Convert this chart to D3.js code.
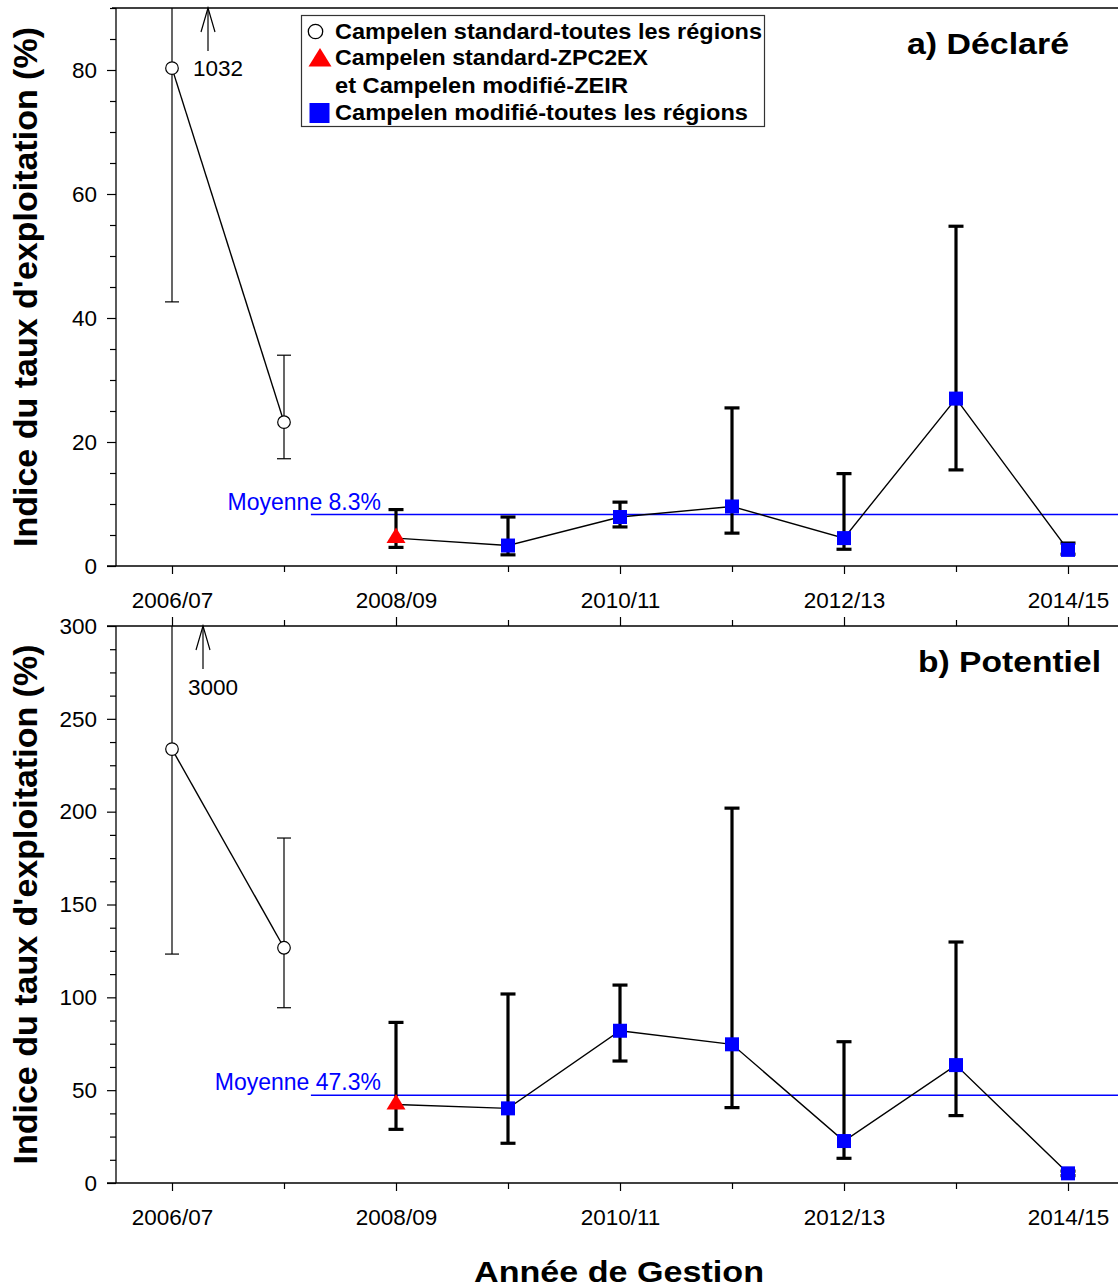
<!DOCTYPE html>
<html>
<head>
<meta charset="utf-8">
<script src="https://cdn.jsdelivr.net/npm/d3@7"></script>
<style>
  html, body { margin: 0; padding: 0; background: #fff; }
  svg { display: block; font-family: "Liberation Sans", Arial, sans-serif; }
</style>
</head>
<body>
<svg id="chart" width="1118" height="1287"></svg>
<script>
// ---------------- data ----------------
const seasons = ["2006/07","2007/08","2008/09","2009/10","2010/11","2011/12","2012/13","2013/14","2014/15"];
const tickLabelSeasons = ["2006/07","2008/09","2010/11","2012/13","2014/15"];

// a) Déclaré
const aStdSeason = ["2006/07","2007/08"];
const aStdVal = [80.3, 23.2];
const aStdLo  = [42.6, 17.3];
const aStdHi  = [1032, 34.0];
const aZpcSeason = ["2008/09"];
const aZpcVal = [4.5];
const aZpcLo  = [3.0];
const aZpcHi  = [9.1];
const aModSeason = ["2009/10","2010/11","2011/12","2012/13","2013/14","2014/15"];
const aModVal = [3.3, 7.9, 9.6, 4.5, 27.0, 2.6];
const aModLo  = [1.8, 6.3, 5.3, 2.7, 15.5, 1.9];
const aModHi  = [7.9, 10.3, 25.5, 14.9, 54.8, 3.7];
const aMean = 8.3;
const aOffscale = "1032";

// b) Potentiel
const bStdVal = [233.7, 126.7];
const bStdLo  = [123.3, 94.4];
const bStdHi  = [3000, 185.8];
const bZpcVal = [42.3];
const bZpcLo  = [28.9];
const bZpcHi  = [86.5];
const bModVal = [40.2, 82.0, 74.7, 22.6, 63.5, 5.2];
const bModLo  = [21.4, 65.7, 40.6, 13.3, 36.3, 4.0];
const bModHi  = [101.8, 106.6, 201.9, 76.1, 129.8, 6.4];
const bMean = 47.3;
const bOffscale = "3000";

const aYTicksMajor = [0, 20, 40, 60, 80];
const bYTicksMajor = [0, 50, 100, 150, 200, 250, 300];

const legendLabels = [
  "Campelen standard-toutes les régions",
  "Campelen standard-ZPC2EX",
  "et Campelen modifié-ZEIR",
  "Campelen modifié-toutes les régions"
];
const yTitle = "Indice du taux d'exploitation (%)";
const xTitle = "Année de Gestion";

// ---------------- drawing ----------------
const svg = d3.select("#chart");
const W = 1118;
const BLUE = "#0000ff", RED = "#ff0000";

const x = d3.scaleLinear().domain([-0.5, seasons.length - 0.5]).range([116, 1124]);
const xi = s => x(seasons.indexOf(s));

function makeSeries(seasonList, val, lo, hi) {
  return seasonList.map((s, i) => ({ s, v: val[i], lo: lo[i], hi: hi[i] }));
}

function panel(opt) {
  const y = d3.scaleLinear().domain([0, opt.ymax]).range([opt.bottom, opt.top]);
  const g = svg.append("g");
  const clipId = "clip" + opt.id;
  svg.append("clipPath").attr("id", clipId).append("rect")
    .attr("x", 116).attr("y", opt.top).attr("width", W - 116).attr("height", opt.bottom - opt.top);

  // y axis minor + major
  const minorVals = d3.range(0, opt.ymax + 0.001, opt.minorStep).filter(v => !opt.major.includes(v));
  g.append("g").attr("transform", "translate(116,0)")
    .call(d3.axisLeft(y).tickValues(minorVals).tickSize(6).tickFormat(""))
    .call(a => a.select(".domain").remove());
  g.append("g").attr("transform", "translate(116,0)")
    .call(d3.axisLeft(y).tickValues(opt.major).tickSize(9).tickPadding(10).tickFormat(d3.format("d")))
    .call(a => a.select(".domain").remove())
    .call(a => a.selectAll("text").attr("font-size", 22.5).attr("fill", "#000").attr("font-family", "'Liberation Sans', Arial, sans-serif"));
  g.append("line").attr("x1", 116).attr("x2", 116).attr("y1", opt.top).attr("y2", opt.bottom)
    .attr("stroke", "#000").attr("stroke-width", 1.3);

  // x axis bottom
  const idxAll = d3.range(seasons.length);
  const majorIdx = tickLabelSeasons.map(s => seasons.indexOf(s));
  const minorIdx = idxAll.filter(i => !majorIdx.includes(i));
  g.append("g").attr("transform", `translate(0,${opt.bottom})`)
    .call(d3.axisBottom(x).tickValues(minorIdx).tickSize(6).tickFormat(""))
    .call(a => a.select(".domain").remove());
  g.append("g").attr("transform", `translate(0,${opt.bottom})`)
    .call(d3.axisBottom(x).tickValues(majorIdx).tickSize(8).tickPadding(18).tickFormat(i => seasons[i]))
    .call(a => a.select(".domain").remove())
    .call(a => a.selectAll("text").attr("font-size", 22.5).attr("fill", "#000").attr("font-family", "'Liberation Sans', Arial, sans-serif"));
  g.append("line").attr("x1", 107).attr("x2", W).attr("y1", opt.bottom).attr("y2", opt.bottom)
    .attr("stroke", "#000").attr("stroke-width", 1.3);

  // top axis
  if (opt.topTicks) {
    g.append("g").attr("transform", `translate(0,${opt.top})`)
      .call(d3.axisTop(x).tickValues(minorIdx).tickSize(6).tickFormat(""))
      .call(a => a.select(".domain").remove());
    g.append("g").attr("transform", `translate(0,${opt.top})`)
      .call(d3.axisTop(x).tickValues(majorIdx).tickSize(9).tickFormat(""))
      .call(a => a.select(".domain").remove());
    g.append("line").attr("x1", 107).attr("x2", W).attr("y1", opt.top).attr("y2", opt.top)
      .attr("stroke", "#000").attr("stroke-width", 1.3);
  } else {
    g.append("line").attr("x1", 112).attr("x2", W).attr("y1", opt.top).attr("y2", opt.top)
      .attr("stroke", "#000").attr("stroke-width", 1.3);
  }
  g.selectAll(".tick line").attr("stroke", "#000").attr("stroke-width", 1.2);

  const plot = svg.append("g").attr("clip-path", `url(#${clipId})`);

  // mean line
  plot.append("line")
    .attr("x1", x(1.24)).attr("x2", W)
    .attr("y1", y(opt.mean)).attr("y2", y(opt.mean))
    .attr("stroke", BLUE).attr("stroke-width", 1.6);
  svg.append("text")
    .attr("x", 381).attr("y", y(opt.mean) - 5)
    .attr("text-anchor", "end").attr("font-size", 23).attr("fill", BLUE)
    .text("Moyenne " + opt.mean + "%");

  const std = opt.std, zpc = opt.zpc, mod = opt.mod;
  const lineGen = d3.line().x(d => xi(d.s)).y(d => y(d.v));

  // connecting lines
  plot.append("path").datum(std).attr("d", lineGen)
    .attr("fill", "none").attr("stroke", "#000").attr("stroke-width", 1.4);
  plot.append("path").datum(zpc.concat(mod)).attr("d", lineGen)
    .attr("fill", "none").attr("stroke", "#000").attr("stroke-width", 1.4);

  // error bars
  function errBars(data, sw, cap) {
    const eg = plot.append("g").attr("stroke", "#000").attr("stroke-width", sw);
    data.forEach(d => {
      const cx = xi(d.s);
      eg.append("line").attr("x1", cx).attr("x2", cx).attr("y1", y(d.lo)).attr("y2", y(d.hi));
      eg.append("line").attr("x1", cx - cap / 2).attr("x2", cx + cap / 2).attr("y1", y(d.lo)).attr("y2", y(d.lo));
      if (d.hi <= opt.ymax)
        eg.append("line").attr("x1", cx - cap / 2).attr("x2", cx + cap / 2).attr("y1", y(d.hi)).attr("y2", y(d.hi));
    });
  }
  errBars(std, 1.2, 14);
  errBars(zpc, 3.2, 15);
  errBars(mod, 3.2, 15);

  // markers
  plot.selectAll(".circ").data(std).join("circle")
    .attr("cx", d => xi(d.s)).attr("cy", d => y(d.v)).attr("r", 6.3)
    .attr("fill", "#fff").attr("stroke", "#000").attr("stroke-width", 1.2);
  plot.selectAll(".tri").data(zpc).join("path")
    .attr("d", d => { const cx = xi(d.s), cy = y(d.v);
      return `M${cx},${cy - 10.5}L${cx + 9.5},${cy + 5}L${cx - 9.5},${cy + 5}Z`; })
    .attr("fill", RED);
  plot.selectAll(".sq").data(mod).join("rect")
    .attr("x", d => xi(d.s) - 7).attr("y", d => y(d.v) - 7)
    .attr("width", 14).attr("height", 14).attr("fill", BLUE);

  // off-scale arrow
  const ax = x(0) + opt.arrowDx;
  const ag = svg.append("g").attr("stroke", "#000").attr("stroke-width", 1.2).attr("fill", "none");
  ag.append("line").attr("x1", ax).attr("x2", ax).attr("y1", opt.top + 43).attr("y2", opt.top);
  ag.append("path").attr("d", `M${ax - 7},${opt.top + 24}L${ax},${opt.top}L${ax + 7},${opt.top + 24}`);
  svg.append("text").attr("x", ax - 15).attr("y", opt.top + opt.labelDy)
    .attr("font-size", 22.5).attr("fill", "#000").text(opt.offscale);

  // panel title
  svg.append("text").attr("x", opt.titleX).attr("y", opt.titleY)
    .attr("text-anchor", "start").attr("font-size", 30).attr("font-weight", "bold")
    .attr("textLength", opt.titleLen).attr("lengthAdjust", "spacingAndGlyphs")
    .text(opt.title);

  // y title
  svg.append("text")
    .attr("transform", `translate(37,${(opt.top + opt.bottom) / 2}) rotate(-90)`)
    .attr("text-anchor", "middle").attr("font-size", 34).attr("font-weight", "bold")
    .text(yTitle);

  return y;
}

panel({
  id: "a", top: 8, bottom: 566, ymax: 90, minorStep: 5, major: aYTicksMajor, topTicks: false,
  mean: aMean,
  std: makeSeries(aStdSeason, aStdVal, aStdLo, aStdHi),
  zpc: makeSeries(aZpcSeason, aZpcVal, aZpcLo, aZpcHi),
  mod: makeSeries(aModSeason, aModVal, aModLo, aModHi),
  arrowDx: 36, labelDy: 68, offscale: aOffscale,
  title: "a) Déclaré", titleX: 907, titleY: 54, titleLen: 162
});
panel({
  id: "b", top: 626, bottom: 1183, ymax: 300, minorStep: 12.5, major: bYTicksMajor, topTicks: true,
  mean: bMean,
  std: makeSeries(aStdSeason, bStdVal, bStdLo, bStdHi),
  zpc: makeSeries(aZpcSeason, bZpcVal, bZpcLo, bZpcHi),
  mod: makeSeries(aModSeason, bModVal, bModLo, bModHi),
  arrowDx: 31, labelDy: 69, offscale: bOffscale,
  title: "b) Potentiel", titleX: 918, titleY: 672, titleLen: 183
});

// x title
svg.append("text").attr("x", 474).attr("y", 1282)
  .attr("font-size", 30).attr("font-weight", "bold")
  .attr("textLength", 290).attr("lengthAdjust", "spacingAndGlyphs")
  .text(xTitle);

// legend
const lg = svg.append("g");
lg.append("rect").attr("x", 301.5).attr("y", 15.5).attr("width", 463).attr("height", 111)
  .attr("fill", "#fff").attr("stroke", "#333").attr("stroke-width", 1.2);
const legBase = [38.5, 65, 92.5, 120];
const legLen = [427, 313, 293, 413];
legendLabels.forEach((t, i) => {
  lg.append("text").attr("x", 335).attr("y", legBase[i])
    .attr("font-size", 21.5).attr("font-weight", "bold")
    .attr("textLength", legLen[i]).attr("lengthAdjust", "spacingAndGlyphs")
    .text(t);
});
lg.append("circle").attr("cx", 315.5).attr("cy", 31.5).attr("r", 7.2)
  .attr("fill", "#fff").attr("stroke", "#000").attr("stroke-width", 1.3);
lg.append("path").attr("d", "M320,48L331.5,66.5L308.5,66.5Z").attr("fill", RED);
lg.append("rect").attr("x", 309.5).attr("y", 103).attr("width", 20).attr("height", 20).attr("fill", BLUE);
</script>
</body>
</html>
